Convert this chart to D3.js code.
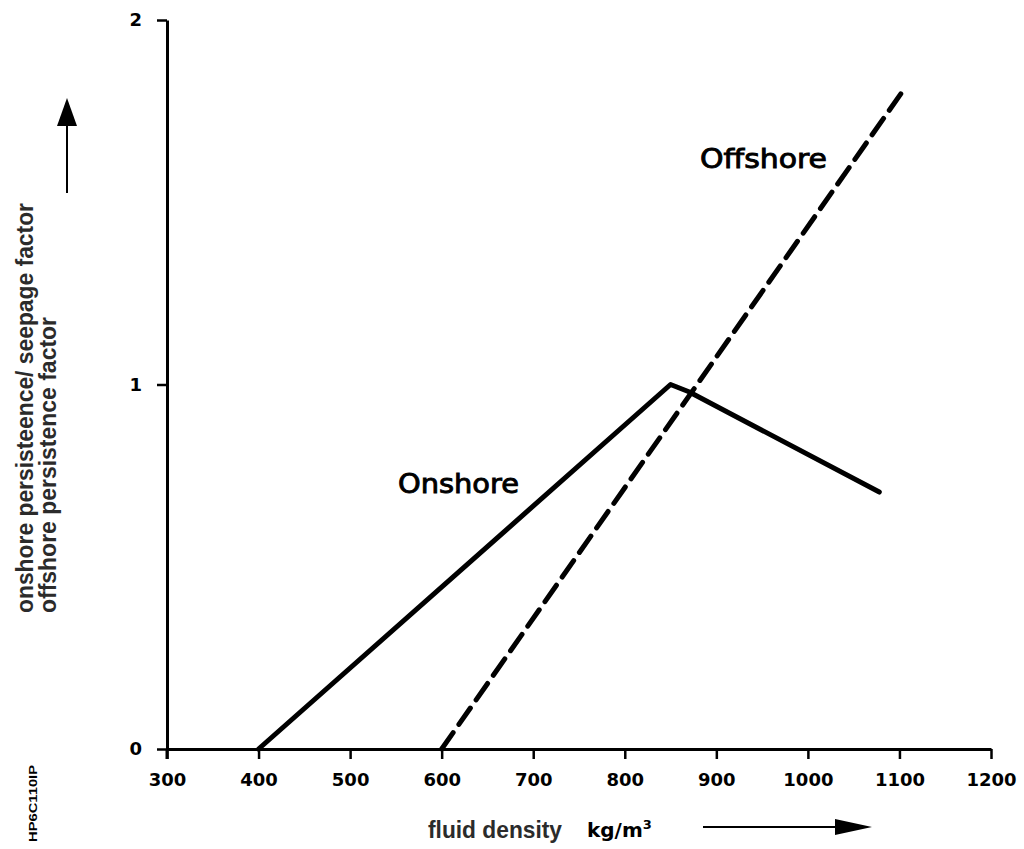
<!DOCTYPE html>
<html>
<head>
<meta charset="utf-8">
<script src="https://cdn.jsdelivr.net/npm/d3@7"></script>
<style>
body { margin: 0; background: #ffffff; }
</style>
</head>
<body>
<svg id="chart"></svg>
<script>
var width = 1024;
var height = 849;

// values
var xTicks = [300, 400, 500, 600, 700, 800, 900, 1000, 1100, 1200];
var yTicks = [0, 1, 2];
var onshoreDensity = [400, 850, 870, 1078];
var onshoreFactor = [0, 1.0, 0.98, 0.705];
var offshoreDensity = [600, 1105];
var offshoreFactor = [0, 1.81];

var svg = d3.select("#chart")
.attr("width", width)
.attr("height", height);

var x = d3.scaleLinear().domain([300, 1200]).range([167, 991]);
var y = d3.scaleLinear().domain([0, 2]).range([749, 20]);

var line = d3.line()
.x(function (d) { return x(d[0]); })
.y(function (d) { return y(d[1]); });

// axes
var xAxis = svg.append("g")
.attr("transform", "translate(0," + y(0) + ")")
.call(d3.axisBottom(x).tickValues(xTicks).tickFormat(d3.format("d"))
	.tickSize(10).tickPadding(14).tickSizeOuter(0));

var yAxis = svg.append("g")
.attr("transform", "translate(" + x(300) + ",0)")
.call(d3.axisLeft(y).tickValues(yTicks).tickFormat(d3.format("d"))
	.tickSize(10).tickPadding(15).tickSizeOuter(0));

[xAxis, yAxis].forEach(function (a) {
	a.select(".domain").attr("stroke", "#000").attr("stroke-width", 3);
	a.selectAll(".tick line").attr("stroke", "#000").attr("stroke-width", 2.5);
	a.selectAll(".tick text")
	.attr("font-family", "'DejaVu Sans', sans-serif")
	.attr("font-weight", "bold")
	.attr("font-size", 18)
	.attr("fill", "#000");
});
xAxis.attr("font-size", 18);
yAxis.attr("font-size", 18);

// y axis line also runs a little below the x axis
svg.append("line")
.attr("x1", x(300)).attr("x2", x(300))
.attr("y1", y(0)).attr("y2", y(0) + 10)
.attr("stroke", "#000").attr("stroke-width", 3);

// curves
svg.append("path")
.datum(d3.zip(onshoreDensity, onshoreFactor))
.attr("d", line)
.attr("fill", "none")
.attr("stroke", "#000")
.attr("stroke-width", 5)
.attr("stroke-linejoin", "round")
.attr("stroke-linecap", "round");

svg.append("path")
.datum(d3.zip(offshoreDensity, offshoreFactor))
.attr("d", line)
.attr("fill", "none")
.attr("stroke", "#000")
.attr("stroke-width", 5)
.attr("stroke-dasharray", "20,10")
.attr("stroke-linecap", "round");

// curve labels
function curveLabel(txt, px, py, len) {
	svg.append("text")
	.attr("x", px)
	.attr("y", py)
	.attr("textLength", len)
	.attr("lengthAdjust", "spacingAndGlyphs")
	.style("font-family", "'DejaVu Sans', sans-serif")
	.style("font-size", "26px")
	.attr("fill", "#000")
	.attr("stroke", "#000")
	.attr("stroke-width", 0.9)
	.text(txt);
}
curveLabel("Onshore", 398, 493, 121);
curveLabel("Offshore", 700, 168, 127);

// y axis title, two lines
var yTitle = [
	{ t: "onshore persisteence/ seepage factor", bx: 33, len: 410 },
	{ t: "offshore persistence factor", bx: 56, len: 296 }
];
svg.selectAll(".ytitle")
.data(yTitle)
.enter().append("text")
.attr("class", "ytitle")
.attr("transform", function (d) { return "translate(" + d.bx + ",613) rotate(-90)"; })
.attr("textLength", function (d) { return d.len; })
.attr("lengthAdjust", "spacingAndGlyphs")
.style("font-family", "'Liberation Sans Narrow', 'Liberation Sans', sans-serif")
.style("font-weight", "bold")
.style("font-size", "24px")
.attr("fill", "#2b2b2b")
.text(function (d) { return d.t; });

// x axis title
svg.append("text")
.attr("x", 428)
.attr("y", 838)
.attr("textLength", 134)
.attr("lengthAdjust", "spacingAndGlyphs")
.style("font-family", "'Liberation Sans Narrow', 'Liberation Sans', sans-serif")
.style("font-weight", "bold")
.style("font-size", "24px")
.attr("fill", "#2b2b2b")
.text("fluid density");

var unit = svg.append("text")
.attr("x", 587)
.attr("y", 837)
.style("font-family", "'DejaVu Sans', sans-serif")
.style("font-weight", "bold")
.style("font-size", "20px")
.attr("fill", "#000");
unit.append("tspan").text("kg/m");
unit.append("tspan")
.attr("dy", -8)
.style("font-size", "13px")
.text("3");

// arrows
svg.append("line")
.attr("x1", 703).attr("x2", 840)
.attr("y1", 827).attr("y2", 827)
.attr("stroke", "#000").attr("stroke-width", 2);
svg.append("path")
.attr("d", "M835,819 L872,827 L835,835 Z")
.attr("fill", "#000");

svg.append("line")
.attr("x1", 67).attr("x2", 67)
.attr("y1", 193).attr("y2", 120)
.attr("stroke", "#000").attr("stroke-width", 2);
svg.append("path")
.attr("d", "M67,98 L77,126 L57,126 Z")
.attr("fill", "#000");

// figure code in the corner
svg.append("text")
.attr("transform", "translate(37,842) rotate(-90)")
.attr("textLength", 77)
.attr("lengthAdjust", "spacingAndGlyphs")
.style("font-family", "'Liberation Sans Narrow', 'Liberation Sans', sans-serif")
.style("font-weight", "bold")
.style("font-size", "11px")
.attr("fill", "#000")
.text("HP6C110IP");
</script>
</body>
</html>
